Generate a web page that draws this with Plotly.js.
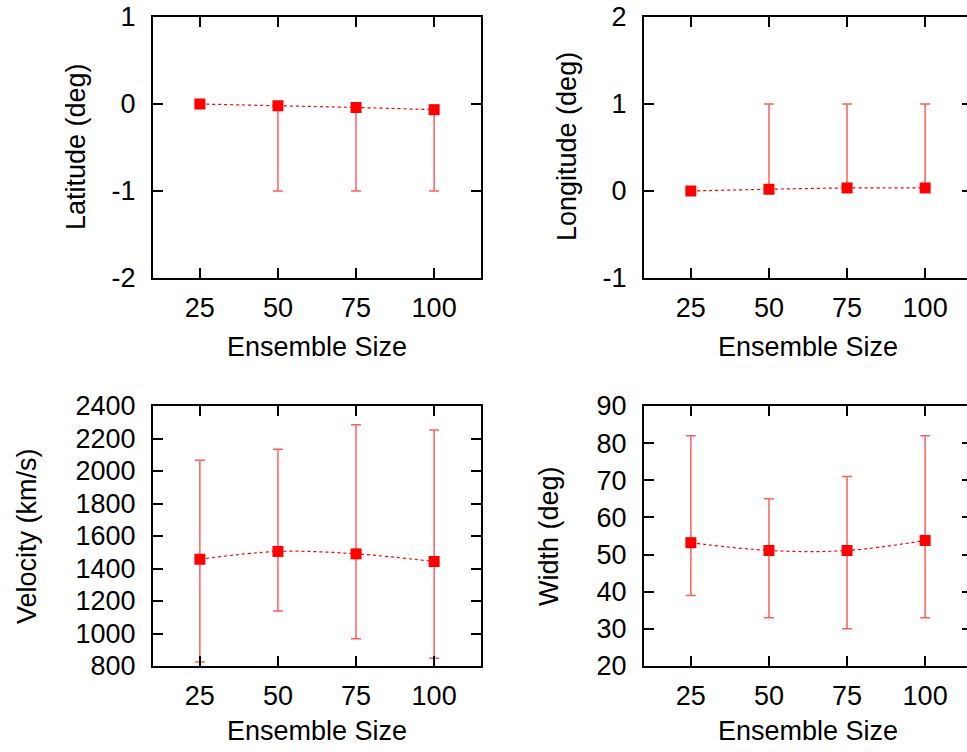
<!DOCTYPE html>
<html>
<head>
<meta charset="utf-8">
<script src="https://cdn.plot.ly/plotly-3.0.1.min.js"></script>
<style>
html, body { margin: 0; padding: 0; overflow: hidden; background: #fff; }
#chart { width: 975px; height: 752px; }
</style>
</head>
<body>
<div id="chart"></div>
<script>
// ---- Data ----
const ensembleSize = [25, 50, 75, 100];

const latitudeValue = [0, -0.02, -0.04, -0.065];
const latitudeLow   = [0, -1, -1, -1];
const latitudeHigh  = [0, -0.02, -0.04, -0.065];

const longitudeValue = [0, 0.02, 0.035, 0.035];
const longitudeLow   = [0, 0.02, 0.035, 0.035];
const longitudeHigh  = [0, 1, 1, 1];

const velocityValue = [1457, 1505, 1490, 1443];
const velocityLow   = [824, 1138, 968, 847];
const velocityHigh  = [2066, 2134, 2285, 2252];

const widthValue = [53.2, 51.1, 51.1, 53.8];
const widthLow   = [39, 33, 30, 33];
const widthHigh  = [82, 65, 71, 82];

const xTickLabels = ['25', '50', '75', '100'];
const latitudeTicks = [-2, -1, 0, 1];
const latitudeTickLabels = ['-2', '-1', '0', '1'];
const longitudeTicks = [-1, 0, 1, 2];
const longitudeTickLabels = ['-1', '0', '1', '2'];
const xTitle = 'Ensemble Size';
const yTitles = ['Latitude (deg)', 'Longitude (deg)', 'Velocity (km/s)', 'Width (deg)'];

// ---- Layout geometry (pixels) ----
const W = 975, H = 752;
const FONT = 'Liberation Sans, Arial, Helvetica, sans-serif';
const FS = 27;

function xd(a, b) { return [a / W, b / W]; }
function yd(top, bottom) { return [1 - bottom / H, 1 - top / H]; }

function makeTrace(values, low, high, xa, ya) {
  return {
    x: ensembleSize,
    y: values,
    xaxis: xa, yaxis: ya,
    type: 'scatter',
    mode: 'lines+markers',
    line: { color: 'red', width: 1.2, dash: '3px,3px', shape: 'spline', smoothing: 1 },
    marker: { symbol: 'square', size: 11, color: 'red' },
    error_y: {
      type: 'data', symmetric: false,
      array: high.map((h, i) => h - values[i]),
      arrayminus: values.map((v, i) => v - low[i]),
      color: 'rgba(255,40,40,0.75)', thickness: 1.5, width: 5
    },
    showlegend: false,
    hoverinfo: 'x+y'
  };
}

const data = [
  makeTrace(latitudeValue, latitudeLow, latitudeHigh, 'x', 'y'),
  makeTrace(longitudeValue, longitudeLow, longitudeHigh, 'x2', 'y2'),
  makeTrace(velocityValue, velocityLow, velocityHigh, 'x3', 'y3'),
  makeTrace(widthValue, widthLow, widthHigh, 'x4', 'y4')
];

function xaxis(domain, anchor) {
  return {
    domain: domain, anchor: anchor, range: [10, 115],
    tickmode: 'array', tickvals: ensembleSize, ticktext: xTickLabels,
    ticks: 'inside', ticklen: 10, tickwidth: 2, tickcolor: 'black',
    showline: true, linewidth: 2, linecolor: 'black', mirror: 'allticks',
    showgrid: false, zeroline: false,
    tickfont: { family: FONT, size: FS, color: 'black' },
    ticklabelstandoff: 5
  };
}
function yaxis(domain, anchor, range, dtick, vals, texts) {
  const ax = {
    domain: domain, anchor: anchor, range: range,
    ticks: 'inside', ticklen: 10, tickwidth: 2, tickcolor: 'black',
    showline: true, linewidth: 2, linecolor: 'black', mirror: 'allticks',
    showgrid: false, zeroline: false,
    tickfont: { family: FONT, size: FS, color: 'black' },
    ticklabelstandoff: 10
  };
  if (vals) { ax.tickmode = 'array'; ax.tickvals = vals; ax.ticktext = texts; }
  else { ax.tickmode = 'linear'; ax.tick0 = range[0]; ax.dtick = dtick; }
  return ax;
}

const leftX = xd(153, 481), rightX = xd(644, 972);
const topY = yd(17, 278), botY = yd(406, 666);

function ann(text, px, py, angle) {
  return {
    text: text, xref: 'paper', yref: 'paper',
    x: px / W, y: 1 - py / H, xanchor: 'center', yanchor: 'middle',
    showarrow: false, textangle: angle || 0,
    font: { family: FONT, size: FS, color: 'black' }
  };
}

const layout = {
  width: W, height: H,
  margin: { l: 0, r: 0, t: 0, b: 0, pad: 0 },
  paper_bgcolor: 'white', plot_bgcolor: 'white',
  font: { family: FONT, size: FS, color: 'black' },
  xaxis: xaxis(leftX, 'y'),
  yaxis: yaxis(topY, 'x', [-2, 1], 1, latitudeTicks, latitudeTickLabels),
  xaxis2: xaxis(rightX, 'y2'),
  yaxis2: yaxis(topY, 'x2', [-1, 2], 1, longitudeTicks, longitudeTickLabels),
  xaxis3: xaxis(leftX, 'y3'),
  yaxis3: yaxis(botY, 'x3', [800, 2400], 200),
  xaxis4: xaxis(rightX, 'y4'),
  yaxis4: yaxis(botY, 'x4', [20, 90], 10),
  annotations: [
    ann(xTitle, 317, 347),
    ann(xTitle, 808, 347),
    ann(xTitle, 317, 731),
    ann(xTitle, 808, 731),
    ann(yTitles[0], 76, 147, -90),
    ann(yTitles[1], 567, 147, -90),
    ann(yTitles[2], 27, 536, -90),
    ann(yTitles[3], 549, 536, -90)
  ]
};

Plotly.newPlot('chart', data, layout, { displayModeBar: false, staticPlot: true });
</script>
</body>
</html>
